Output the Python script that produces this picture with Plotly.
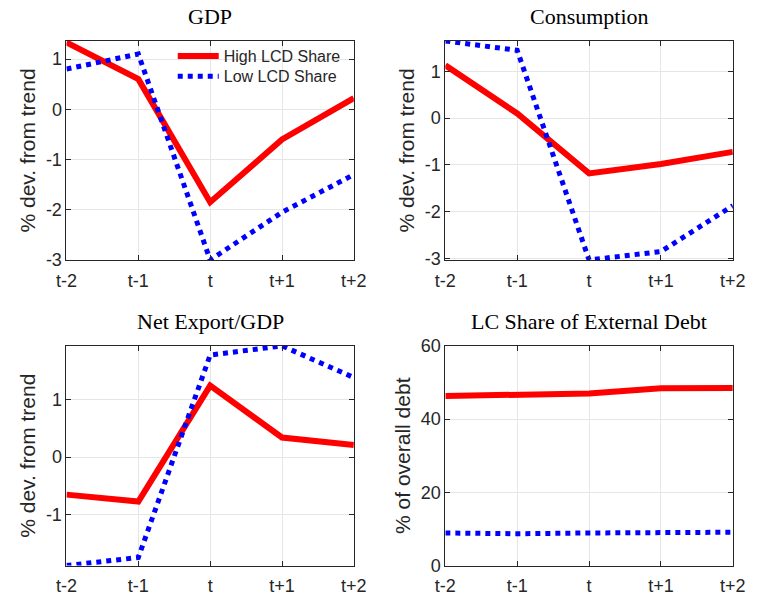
import plotly.graph_objects as go

periods = ["t-2", "t-1", "t", "t+1", "t+2"]

gdp_high = [1.33, 0.60, -1.85, -0.60, 0.22]
gdp_low = [0.80, 1.10, -3.00, -2.05, -1.30]

cons_high = [1.13, 0.10, -1.18, -0.98, -0.72]
cons_low = [1.65, 1.45, -3.03, -2.85, -1.87]

nx_high = [-0.65, -0.77, 1.24, 0.34, 0.21]
nx_low = [-1.88, -1.74, 1.77, 1.93, 1.38]

lc_high = [46.3, 46.5, 47.0, 48.4, 48.5]
lc_low = [8.9, 8.7, 8.9, 9.1, 9.1]

titles = ["GDP", "Consumption", "Net Export/GDP", "LC Share of External Debt"]
ylabels = ["% dev. from trend", "% dev. from trend", "% dev. from trend", "% of overall debt"]
yticks = [[1, 0, -1, -2, -3], [1, 0, -1, -2, -3], [1, 0, -1], [0, 20, 40, 60]]
yranges = [[-3.0, 1.36], [-3.03, 1.65], [-1.88, 1.93], [0, 60]]

series = [(gdp_high, gdp_low), (cons_high, cons_low), (nx_high, nx_low), (lc_high, lc_low)]

W, H = 761, 607
xdoms_px = [(57.3, 354), (448.5, 745.3)]
ydoms_px = [(32, 258.5), (347.3, 574.5)]

fig = go.Figure()
sans = "Liberation Sans, Arial, sans-serif"
tick_font = dict(family=sans, size=18, color="#262626")
xs = list(range(len(periods)))

for i in range(4):
    r, c = divmod(i, 2)
    ax = "" if i == 0 else str(i + 1)
    x0, x1 = xdoms_px[c]
    ytop, ybot = ydoms_px[r]
    hi, lo = series[i]
    fig.add_trace(go.Scatter(x=xs, y=hi, mode="lines", name="High LCD Share",
                             line=dict(color="#ff0000", width=6), showlegend=(i == 0),
                             legend="legend", xaxis="x" + ax, yaxis="y" + ax))
    fig.add_trace(go.Scatter(x=xs, y=lo, mode="lines", name="Low LCD Share",
                             line=dict(color="#0000ff", width=5, dash="dot"), showlegend=(i == 0),
                             legend="legend2", xaxis="x" + ax, yaxis="y" + ax))
    common = dict(showline=True, linecolor="#262626", linewidth=1, mirror="ticks",
                  ticks="inside", ticklen=5, tickcolor="#262626", showgrid=True,
                  gridcolor="#e6e6e6", gridwidth=1, zeroline=False, tickfont=tick_font)
    fig.layout["xaxis" + ax] = dict(domain=[x0 / W, x1 / W], anchor="y" + ax,
                                   range=[0, 4], tickvals=xs, ticktext=periods,
                                   ticklabelstandoff=4, **common)
    fig.layout["yaxis" + ax] = dict(domain=[1 - ybot / H, 1 - ytop / H], anchor="x" + ax,
                                   range=yranges[i], tickvals=yticks[i],
                                   ticktext=[str(v) for v in yticks[i]],
                                   title=dict(text=ylabels[i], standoff=4,
                                              font=dict(family=sans, size=21, color="#262626")),
                                   **common)
    fig.add_annotation(text=titles[i], xref="paper", yref="paper",
                       x=(x0 + x1) / 2 / W, y=1 - (ytop - 10) / H, xanchor="center", yanchor="bottom",
                       showarrow=False,
                       font=dict(family="Liberation Serif, DejaVu Serif, serif", size=22, color="black"))

leg_common = dict(xanchor="left", yanchor="top", bgcolor="rgba(255,255,255,0)", borderwidth=0,
                  font=dict(family=sans, size=16, color="#262626"), itemwidth=41)
fig.update_layout(
    width=W, height=H, margin=dict(l=0, r=0, t=0, b=0),
    paper_bgcolor="white", plot_bgcolor="white",
    legend=dict(x=(175 - 8) / W, y=1 - 30 / H, **leg_common),
    legend2=dict(x=(175 - 8) / W, y=1 - 51 / H, **leg_common),
)

fig.write_html("out.html")
